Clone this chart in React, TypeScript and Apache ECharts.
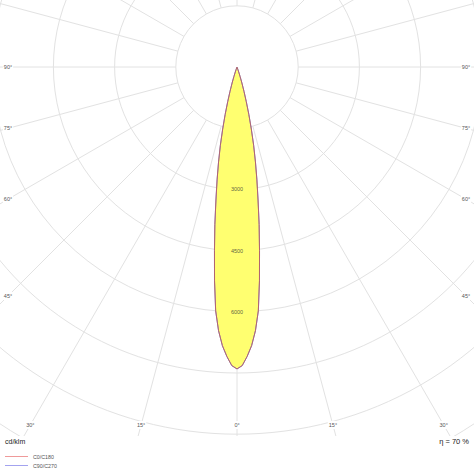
import { useEffect, useRef } from "react";
import * as echarts from "echarts";

// luminous intensity (cd/klm) per gamma angle
const ANGLES = [0, 1, 2, 3, 4, 5, 6, 7, 8, 9, 10, 11, 12, 13, 14, 15, 16, 17, 18, 19, 20, 22, 25, 30];
const C0_C180 = [7400, 7320, 7100, 6840, 6480, 6000, 5270, 4530, 3900, 3300, 2810, 2370, 1960, 1560, 1200, 880, 620, 410, 250, 130, 60, 15, 5, 0];
const C90_C270 = [7400, 7320, 7100, 6840, 6480, 6000, 5270, 4530, 3900, 3300, 2810, 2370, 1960, 1560, 1200, 880, 620, 410, 250, 130, 60, 15, 5, 0];

const RING_STEP = 1500;
const RING_MAX = 15000;
const RING_LABELS = [3000, 4500, 6000];
const EDGE_TICKS = [-90, -75, -60, -45, -30, -15, 0, 15, 30, 45, 60, 75, 90];
const PLANE_NAMES = ["C0/C180", "C90/C270"];
const LEGEND_COLORS = ["#ef9a9a", "#a3a3ef"];
const UNIT = "cd/klm";
const EFFICIENCY = "η = 70 %";

const CX = 237;
const CY = 67;
const PX_PER_CD = 61.2 / 1500;
const BOX = { left: 8, right: 466, bottom: 425 };
const FONT = "'Liberation Sans', Arial, sans-serif";
const GRID_COLOR = "#e2e2e2";

// mirror a half curve around 0° (angle axis runs 0..360, 0 pointing down)
function outline(values: number[]) {
  const right = ANGLES.map((a, i) => [values[i], a]).reverse();
  const left = ANGLES.slice(1).map((a, i) => [values[i + 1], 360 - a]);
  return [...right, ...left];
}

function curveSeries(name: string, values: number[], color: string, opacity: number) {
  const points = outline(values);
  return {
    name,
    type: "custom",
    coordinateSystem: "polar",
    data: [0],
    silent: true,
    z: 2,
    renderItem: (_params: unknown, api: any) => ({
      type: "polyline",
      shape: { points: points.map((p) => api.coord(p)) },
      style: { fill: "none", stroke: color, lineWidth: 1, opacity },
    }),
  };
}

function edgeLabel(angle: number) {
  const rad = (angle * Math.PI) / 180;
  const dx = Math.sin(rad);
  const dy = Math.cos(rad);
  const hits: number[] = [];
  if (dx > 1e-6) hits.push((BOX.right - CX) / dx);
  if (dx < -1e-6) hits.push((BOX.left - CX) / dx);
  if (dy > 1e-6) hits.push((BOX.bottom - CY) / dy);
  const t = Math.min(...hits);
  return {
    type: "text",
    silent: true,
    z: 10,
    x: CX + dx * t,
    y: CY + dy * t,
    style: {
      text: `${Math.abs(angle)}°`,
      fill: "#555",
      font: `5.5px ${FONT}`,
      align: "center",
      verticalAlign: "middle",
      backgroundColor: "#fff",
      padding: [1, 1],
    },
  };
}

function legendRow(name: string, color: string, index: number) {
  const y = 456.5 + index * 9;
  return [
    {
      type: "line",
      silent: true,
      z: 10,
      shape: { x1: 5, y1: y, x2: 28, y2: y },
      style: { stroke: color, lineWidth: 1 },
    },
    {
      type: "text",
      silent: true,
      z: 10,
      x: 33,
      y,
      style: { text: name, fill: "#555", font: `5.3px ${FONT}`, verticalAlign: "middle" },
    },
  ];
}

export default function App() {
  const rootRef = useRef<HTMLDivElement | null>(null);

  useEffect(() => {
    if (!rootRef.current) return;
    const chart = echarts.init(rootRef.current, undefined, { renderer: "svg" });
    const fillPoints = outline(C0_C180);

    chart.setOption({
      animation: false,
      backgroundColor: "#fff",
      polar: {
        center: [CX, CY],
        radius: [RING_STEP * PX_PER_CD, RING_MAX * PX_PER_CD],
      },
      angleAxis: {
        type: "value",
        min: 0,
        max: 360,
        interval: 15,
        startAngle: 270,
        clockwise: false,
        axisLine: { show: false },
        axisTick: { show: false },
        axisLabel: { show: false },
        splitLine: { show: true, lineStyle: { color: GRID_COLOR, width: 1 } },
      },
      radiusAxis: {
        type: "value",
        min: RING_STEP,
        max: RING_MAX,
        interval: RING_STEP,
        axisLine: { show: false },
        axisTick: { show: false },
        axisLabel: { show: false },
        splitLine: { show: true, lineStyle: { color: GRID_COLOR, width: 1 } },
      },
      series: [
        {
          type: "custom",
          coordinateSystem: "polar",
          data: [0],
          silent: true,
          z: 1,
          renderItem: (_params: unknown, api: any) => ({
            type: "polygon",
            shape: { points: fillPoints.map((p) => api.coord(p)) },
            style: { fill: "#ffff70", stroke: "none" },
          }),
        },
        curveSeries(PLANE_NAMES[1], C90_C270, "#7777cc", 1),
        curveSeries(PLANE_NAMES[0], C0_C180, "#c0605a", 0.8),
        {
          type: "scatter",
          coordinateSystem: "polar",
          data: RING_LABELS.map((v) => [v, 0]),
          symbolSize: 1,
          silent: true,
          z: 5,
          itemStyle: { color: "transparent" },
          label: {
            show: true,
            position: "inside",
            formatter: (p: any) => String(p.value[0]),
            fontSize: 5.5,
            color: "#333",
            fontFamily: FONT,
          },
        },
      ],
      graphic: [
        {
          type: "rect",
          silent: true,
          z: 3,
          shape: { x: 0, y: 436, width: 474, height: 40 },
          style: { fill: "#fff" },
        },
        ...EDGE_TICKS.map(edgeLabel),
        ...PLANE_NAMES.flatMap((name, i) => legendRow(name, LEGEND_COLORS[i], i)),
        {
          type: "text",
          silent: true,
          z: 10,
          x: 5,
          y: 441.5,
          style: { text: UNIT, fill: "#222", font: `7px ${FONT}`, verticalAlign: "middle" },
        },
        {
          type: "text",
          silent: true,
          z: 10,
          x: 469,
          y: 441.5,
          style: { text: EFFICIENCY, fill: "#222", font: `7.5px ${FONT}`, align: "right", verticalAlign: "middle" },
        },
      ],
    });

    return () => chart.dispose();
  }, []);

  return <div ref={rootRef} style={{ position: "fixed", left: 0, top: 0, width: 474, height: 474 }} />;
}
